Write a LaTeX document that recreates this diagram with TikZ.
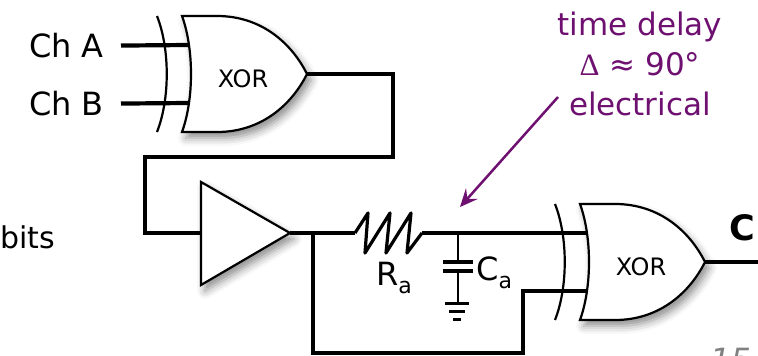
\documentclass[tikz,border=0pt]{standalone}
\usepackage{fontspec}
\setmainfont{DejaVu Sans}
\newfontfamily\greekfont{Liberation Serif}
\usepackage{xcolor}
\usetikzlibrary{arrows.meta, shadows.blur}
\definecolor{delaypurple}{RGB}{110,16,112}
\newcommand{\lowsub}[1]{{\fontsize{22}{22}\selectfont\raisebox{-8pt}{#1}}}

\tikzset{
  wire/.style={line width=4.2pt},
  gateline/.style={line width=2.2pt, draw=black, fill=white,
    blur shadow={shadow xshift=4pt, shadow yshift=-6pt, shadow blur radius=8pt, shadow opacity=45}},
  txt/.style={inner sep=0pt},
  xorgate/.pic={
    \path[gateline] (0,-58) -- (35,-58) .. controls (80,-58) and (110,-30) .. (125,0)
      .. controls (110,30) and (80,58) .. (35,58) -- (0,58) .. controls (12,25) and (12,-25) .. (0,-58) -- cycle;
    \draw[line width=2.2pt] (-25,-58) .. controls (-12,-25) and (-12,25) .. (-25,58);
    \node[txt, font=\fontsize{24}{24}\selectfont] (-label) at (61,5) {XOR};
    \coordinate (-in1) at (6,-29);
    \coordinate (-in2) at (6,29);
    \coordinate (-out) at (125,0);
  },
  buffer/.pic={
    \path[gateline] (0,-51) -- (89,0) -- (0,52) -- cycle;
    \coordinate (-in) at (0,0);
    \coordinate (-out) at (89,0);
  },
}

\begin{document}
\begin{tikzpicture}[x=1pt, y=-1pt, font=\fontsize{32}{38}\selectfont]
  \useasboundingbox (0,0) rectangle (758,356);

  \pic (gA) at (182,74) {xorgate};
  \pic (buf) at (201,233) {buffer};
  \pic (gB) at (580,262) {xorgate};

  \node[txt, anchor=east, inner xsep=17pt] (chA) at (121,46) {Ch A};
  \node[txt, anchor=east, inner xsep=17pt] (chB) at (121,104) {Ch B};
  \node[txt, anchor=base east, font=\fontsize{30}{38}\selectfont] (bits) at (55,248) {bits};

  \coordinate (turnA) at (393,157);
  \coordinate (turnB) at (145,157);
  \coordinate (j1) at (313,233);
  \coordinate (loop) at (523,353);
  \coordinate (ra1) at (355,233);
  \coordinate (ra2) at (422,233);
  \coordinate (j2) at (458,233);
  \coordinate (cout) at (758,262);

  \draw[wire] (chA) -- (gA-in1);
  \draw[wire] (chB) -- (gA-in2);
  \draw[wire] (gA-out) -| (turnA) -- (turnB) |- (buf-in);
  \draw[wire] (buf-out) -- (ra1);
  \draw[wire] (j1) |- (loop) |- (gB-in2);
  \draw[wire] (ra2) -- (gB-in1);
  \draw[wire] (gB-out) -- (cout);

  \draw[line width=3.2pt, line join=round] (ra1) -- ++(13,-20) -- ++(-3,40) -- ++(25,-40) -- ++(-4,40)
    -- ++(25,-40) -- ++(-4,40) -- (ra2);
  \node[txt, anchor=base west] (Ra) at (376,285) {R\lowsub{a}};

  \draw[line width=2.5pt] (j2) -- (458,262);
  \draw[line width=3.5pt] (443,262) -- (473,262);
  \draw[line width=3.5pt] (443,271) -- (473,271);
  \draw[line width=2.5pt] (458,271) -- (458,303);
  \draw[line width=3pt] (445,303) -- (469,303);
  \draw[line width=3pt] (449,311) -- (465,311);
  \draw[line width=3pt] (453,319) -- (461,319);
  \node[txt, anchor=base west] (Ca) at (476,280) {C\lowsub{a}};

  \node[txt, anchor=base, font=\fontsize{35}{35}\selectfont\bfseries] (outC) at (742,240) {C};

  \node[txt, anchor=north, align=center, text=delaypurple, font=\fontsize{31}{40}\selectfont] (delay) at (640,12)
    {time delay\\{\greekfont Δ} ≈ 90°\\electrical};
  \coordinate (tail) at (558,97);
  \coordinate (head) at (460,207);
  \draw[delaypurple, line width=2.5pt, -{Stealth[length=18pt, width=16pt, inset=7pt]}] (tail) -- (head);

  \node[txt, anchor=north west, text=gray, font=\fontsize{32}{32}\selectfont\itshape] (pagenum) at (710,348) {15};
\end{tikzpicture}
\end{document}
